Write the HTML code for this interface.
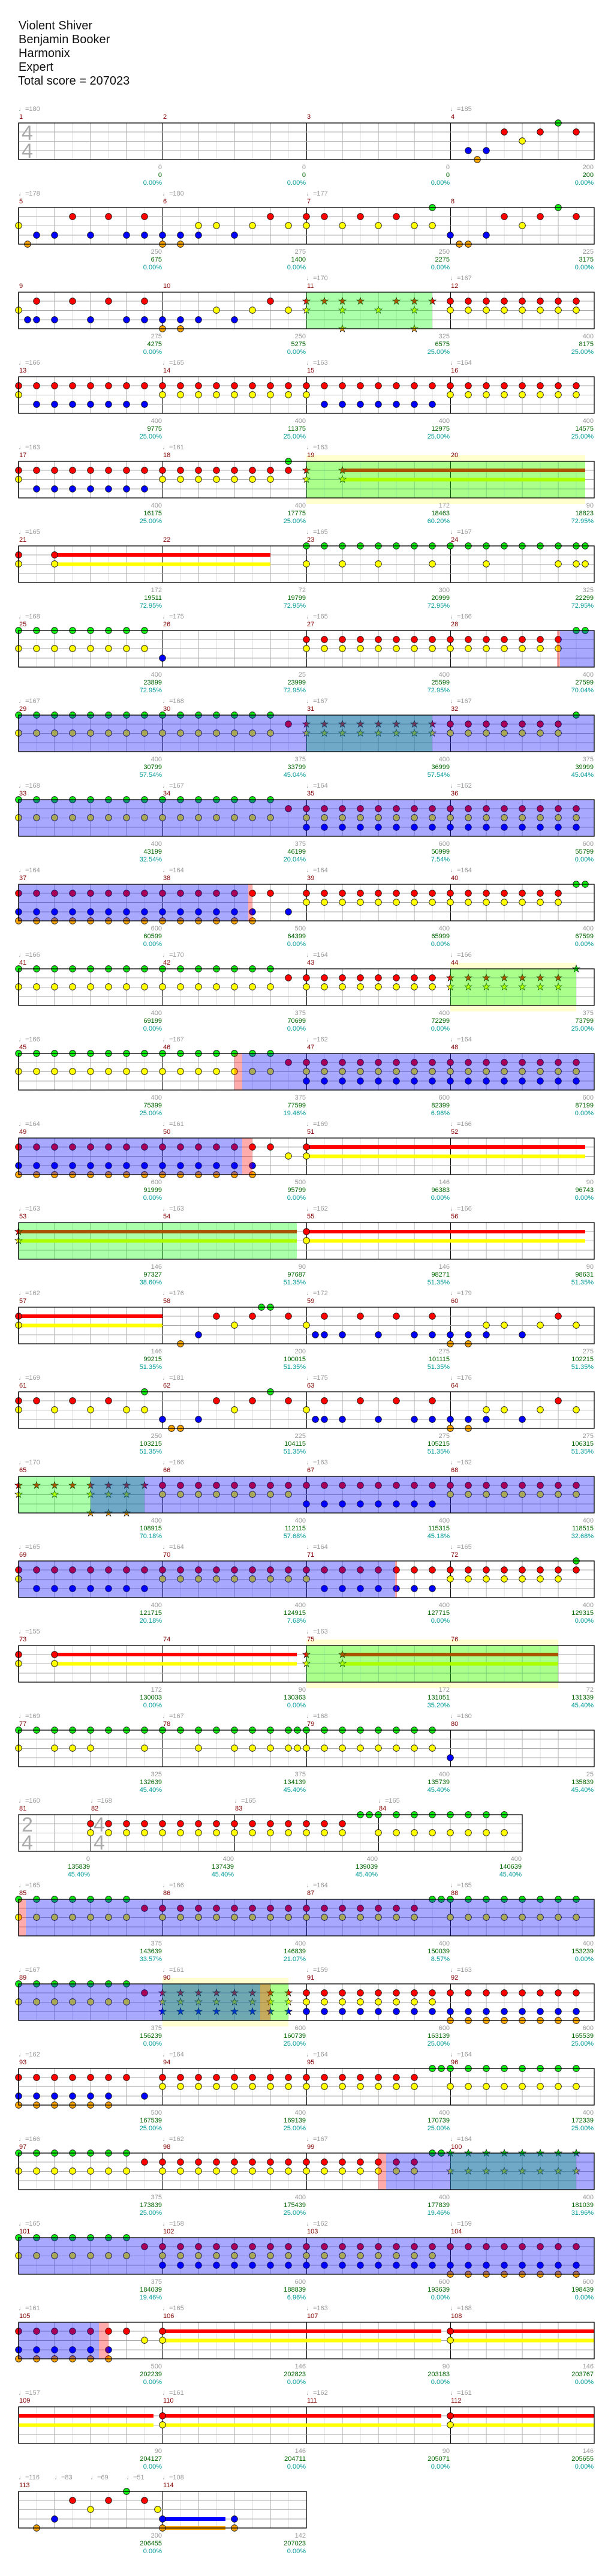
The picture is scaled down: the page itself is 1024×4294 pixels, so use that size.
<!DOCTYPE html>
<html><head><meta charset="utf-8"><style>
html,body{margin:0;padding:0;background:#fff}
svg{display:block}
.h{font:20px "Liberation Sans","DejaVu Sans",sans-serif;fill:#111}
.mn{font:11px "Liberation Sans","DejaVu Sans",sans-serif;fill:#800000}
.tp{font:11px "Liberation Sans","DejaVu Sans",sans-serif;fill:#999}
.a{font:11px "Liberation Sans","DejaVu Sans",sans-serif;fill:#999;text-anchor:end}
.b{font:11px "Liberation Sans","DejaVu Sans",sans-serif;fill:#006400;text-anchor:end}
.c{font:11px "Liberation Sans","DejaVu Sans",sans-serif;fill:#009999;text-anchor:end}
.ts{font:34px "Liberation Sans","DejaVu Sans",sans-serif;fill:#aaa}
</style></head><body>
<svg width="1024" height="4294" xmlns="http://www.w3.org/2000/svg" xmlns:xlink="http://www.w3.org/1999/xlink">
<defs>
<circle id="G" cy="0" r="5.3" fill="#1e1" stroke="#000" stroke-width=".8"/>
<circle id="R" cy="15" r="5.3" fill="#f00" stroke="#000" stroke-width=".8"/>
<circle id="Y" cy="30" r="5.3" fill="#ff0" stroke="#000" stroke-width=".8"/>
<circle id="B" cy="46" r="5.3" fill="#00f" stroke="#000" stroke-width=".8"/>
<circle id="O" cy="61" r="5.3" fill="#ffa500" stroke="#000" stroke-width=".8"/>
<polygon id="sG" transform="translate(0,0)" points="0,-6.5 1.5,-2.1 6.2,-2 2.4,0.8 3.8,5.3 0,2.6 -3.8,5.3 -2.4,0.8 -6.2,-2 -1.5,-2.1" fill="#1e1" stroke="#000" stroke-width=".6"/>
<polygon id="sR" transform="translate(0,15)" points="0,-6.5 1.5,-2.1 6.2,-2 2.4,0.8 3.8,5.3 0,2.6 -3.8,5.3 -2.4,0.8 -6.2,-2 -1.5,-2.1" fill="#f00" stroke="#000" stroke-width=".6"/>
<polygon id="sY" transform="translate(0,30)" points="0,-6.5 1.5,-2.1 6.2,-2 2.4,0.8 3.8,5.3 0,2.6 -3.8,5.3 -2.4,0.8 -6.2,-2 -1.5,-2.1" fill="#ff0" stroke="#000" stroke-width=".6"/>
<polygon id="sB" transform="translate(0,46)" points="0,-6.5 1.5,-2.1 6.2,-2 2.4,0.8 3.8,5.3 0,2.6 -3.8,5.3 -2.4,0.8 -6.2,-2 -1.5,-2.1" fill="#00f" stroke="#000" stroke-width=".6"/>
<polygon id="sO" transform="translate(0,61)" points="0,-6.5 1.5,-2.1 6.2,-2 2.4,0.8 3.8,5.3 0,2.6 -3.8,5.3 -2.4,0.8 -6.2,-2 -1.5,-2.1" fill="#ffa500" stroke="#000" stroke-width=".6"/>
<pattern id="pG" patternUnits="userSpaceOnUse" x="-15" y="-7" width="30" height="14"><use href="#G" x="15" y="7"/></pattern>
<pattern id="pR" patternUnits="userSpaceOnUse" x="-15" y="8" width="30" height="14"><use href="#R" x="15" y="-8"/></pattern>
<pattern id="pY" patternUnits="userSpaceOnUse" x="-15" y="23" width="30" height="14"><use href="#Y" x="15" y="-23"/></pattern>
<pattern id="pB" patternUnits="userSpaceOnUse" x="-15" y="39" width="30" height="14"><use href="#B" x="15" y="-39"/></pattern>
<pattern id="pO" patternUnits="userSpaceOnUse" x="-15" y="54" width="30" height="14"><use href="#O" x="15" y="-54"/></pattern>
<pattern id="qG" patternUnits="userSpaceOnUse" x="-15" y="-7" width="30" height="14"><use href="#sG" x="15" y="7"/></pattern>
<pattern id="qR" patternUnits="userSpaceOnUse" x="-15" y="8" width="30" height="14"><use href="#sR" x="15" y="-8"/></pattern>
<pattern id="qY" patternUnits="userSpaceOnUse" x="-15" y="23" width="30" height="14"><use href="#sY" x="15" y="-23"/></pattern>
<pattern id="qB" patternUnits="userSpaceOnUse" x="-15" y="39" width="30" height="14"><use href="#sB" x="15" y="-39"/></pattern>
<pattern id="gr" patternUnits="userSpaceOnUse" x="0" y="0" width="240" height="61"><path d="M30 0V61M90 0V61M150 0V61M210 0V61" stroke="#ddd"/><path d="M60 0V61M120 0V61M180 0V61" stroke="#aaa"/><path d="M0.5 0V61" stroke="#000"/></pattern>
<pattern id="gr2" patternUnits="userSpaceOnUse" x="-120" y="0" width="240" height="61"><path d="M30 0V61M90 0V61M150 0V61M210 0V61" stroke="#ddd"/><path d="M60 0V61M120 0V61M180 0V61" stroke="#aaa"/><path d="M0.5 0V61" stroke="#000"/></pattern>
<g id="sf"><rect width="960" height="61" fill="url(#gr)"/><path d="M0 15H960M0 30.5H960M0 46H960" stroke="#aaa"/></g>
<rect id="bd" width="960" height="61" fill="none" stroke="#000" stroke-width="1.3"/>
</defs>

<text class="h" x="31" y="49">Violent Shiver</text>
<text class="h" x="31" y="72">Benjamin Booker</text>
<text class="h" x="31" y="95">Harmonix</text>
<text class="h" x="31" y="118">Expert</text>
<text class="h" x="30" y="141">Total score = 207023</text>

<!-- Row 0 -->
<g transform="translate(31,205)">
<use href="#sf"/>
<text class="ts" x="5" y="28">4</text><text class="ts" x="5" y="58">4</text>
<use href="#B" x="750"/><use href="#O" x="765"/><use href="#B" x="780"/><use href="#R" x="810"/><use href="#Y" x="840"/><use href="#R" x="870"/><use href="#G" x="900"/><use href="#R" x="930"/>
<use href="#bd"/>
<text class="tp" x="0" y="-20">♩=180</text><text class="tp" x="720" y="-20">♩=185</text>
<text class="mn" x="1" y="-7">1</text><text class="mn" x="241" y="-7">2</text><text class="mn" x="481" y="-7">3</text><text class="mn" x="721" y="-7">4</text>
<text class="a" x="239" y="77">0</text><text class="b" x="239" y="90">0</text><text class="c" x="239" y="103">0.00%</text>
<text class="a" x="479" y="77">0</text><text class="b" x="479" y="90">0</text><text class="c" x="479" y="103">0.00%</text>
<text class="a" x="719" y="77">0</text><text class="b" x="719" y="90">0</text><text class="c" x="719" y="103">0.00%</text>
<text class="a" x="959" y="77">200</text><text class="b" x="959" y="90">200</text><text class="c" x="959" y="103">0.00%</text>
</g>

<!-- Row 1 -->
<g transform="translate(31,346)">
<use href="#sf"/>
<use href="#Y" x="0"/><use href="#O" x="15"/><use href="#B" x="30"/><use href="#B" x="60"/><use href="#R" x="90"/><use href="#B" x="120"/><use href="#R" x="150"/><use href="#B" x="180"/><use href="#B" x="210"/><use href="#R" x="210"/>
<use href="#B" x="240"/><use href="#O" x="240"/><use href="#B" x="270"/><use href="#O" x="270"/><use href="#B" x="300"/><use href="#Y" x="300"/><use href="#Y" x="330"/><use href="#B" x="360"/><use href="#Y" x="390"/><use href="#R" x="420"/><use href="#Y" x="450"/>
<use href="#R" x="480"/><use href="#Y" x="480"/><use href="#R" x="510"/><use href="#Y" x="540"/><use href="#R" x="570"/><use href="#Y" x="600"/><use href="#R" x="630"/><use href="#Y" x="660"/><use href="#Y" x="690"/><use href="#G" x="690"/>
<use href="#B" x="720"/><use href="#O" x="735"/><use href="#O" x="750"/><use href="#B" x="780"/><use href="#R" x="810"/><use href="#Y" x="840"/><use href="#R" x="870"/><use href="#G" x="900"/><use href="#R" x="930"/>
<use href="#bd"/>
<text class="tp" x="0" y="-20">♩=178</text><text class="tp" x="240" y="-20">♩=180</text><text class="tp" x="480" y="-20">♩=177</text>
<text class="mn" x="1" y="-7">5</text><text class="mn" x="241" y="-7">6</text><text class="mn" x="481" y="-7">7</text><text class="mn" x="721" y="-7">8</text>
<text class="a" x="239" y="77">250</text><text class="b" x="239" y="90">675</text><text class="c" x="239" y="103">0.00%</text>
<text class="a" x="479" y="77">275</text><text class="b" x="479" y="90">1400</text><text class="c" x="479" y="103">0.00%</text>
<text class="a" x="719" y="77">250</text><text class="b" x="719" y="90">2275</text><text class="c" x="719" y="103">0.00%</text>
<text class="a" x="959" y="77">225</text><text class="b" x="959" y="90">3175</text><text class="c" x="959" y="103">0.00%</text>
</g>

<!-- Row 2 -->
<g transform="translate(31,487)">
<use href="#sf"/>
<use href="#Y" x="0"/><use href="#B" x="15"/><use href="#B" x="30"/><use href="#B" x="60"/><use href="#B" x="120"/><rect x="165" y="39" width="150" height="14" fill="url(#pB)"/><use href="#B" x="360"/>
<use href="#R" x="30"/><use href="#R" x="90"/><use href="#R" x="150"/><use href="#R" x="210"/><use href="#R" x="420"/>
<use href="#O" x="240"/><use href="#O" x="270"/><use href="#Y" x="330"/><use href="#Y" x="390"/><use href="#Y" x="450"/>
<rect x="465" y="8" width="120" height="14" fill="url(#qR)"/><rect x="615" y="8" width="90" height="14" fill="url(#qR)"/>
<use href="#sY" x="480"/><use href="#sY" x="540"/><use href="#sY" x="600"/><use href="#sY" x="660"/><use href="#sO" x="540"/><use href="#sO" x="660"/>
<rect x="705" y="8" width="240" height="14" fill="url(#pR)"/><rect x="705" y="23" width="240" height="14" fill="url(#pY)"/>
<rect x="480" y="0" width="210" height="61" fill="#0f0" fill-opacity=".33"/>
<use href="#bd"/>
<text class="tp" x="480" y="-20">♩=170</text><text class="tp" x="720" y="-20">♩=167</text>
<text class="mn" x="1" y="-7">9</text><text class="mn" x="241" y="-7">10</text><text class="mn" x="481" y="-7">11</text><text class="mn" x="721" y="-7">12</text>
<text class="a" x="239" y="77">275</text><text class="b" x="239" y="90">4275</text><text class="c" x="239" y="103">0.00%</text>
<text class="a" x="479" y="77">250</text><text class="b" x="479" y="90">5275</text><text class="c" x="479" y="103">0.00%</text>
<text class="a" x="719" y="77">325</text><text class="b" x="719" y="90">6575</text><text class="c" x="719" y="103">25.00%</text>
<text class="a" x="959" y="77">400</text><text class="b" x="959" y="90">8175</text><text class="c" x="959" y="103">25.00%</text>
</g>

<!-- Row 3 -->
<g transform="translate(31,628)">
<use href="#sf"/>
<rect x="-15" y="8" width="960" height="14" fill="url(#pR)"/>
<use href="#Y" x="0"/><rect x="225" y="23" width="270" height="14" fill="url(#pY)"/><rect x="705" y="23" width="240" height="14" fill="url(#pY)"/>
<rect x="15" y="39" width="210" height="14" fill="url(#pB)"/><rect x="495" y="39" width="210" height="14" fill="url(#pB)"/>
<use href="#bd"/>
<text class="tp" x="0" y="-20">♩=166</text><text class="tp" x="240" y="-20">♩=165</text><text class="tp" x="480" y="-20">♩=163</text><text class="tp" x="720" y="-20">♩=164</text>
<text class="mn" x="1" y="-7">13</text><text class="mn" x="241" y="-7">14</text><text class="mn" x="481" y="-7">15</text><text class="mn" x="721" y="-7">16</text>
<text class="a" x="239" y="77">400</text><text class="b" x="239" y="90">9775</text><text class="c" x="239" y="103">25.00%</text>
<text class="a" x="479" y="77">400</text><text class="b" x="479" y="90">11375</text><text class="c" x="479" y="103">25.00%</text>
<text class="a" x="719" y="77">400</text><text class="b" x="719" y="90">12975</text><text class="c" x="719" y="103">25.00%</text>
<text class="a" x="959" y="77">400</text><text class="b" x="959" y="90">14575</text><text class="c" x="959" y="103">25.00%</text>
</g>

<!-- Row 4 -->
<g transform="translate(31,769)">
<rect x="480" y="-10" width="465" height="81" fill="#ffffd0"/>
<use href="#sf"/>
<rect x="-15" y="8" width="480" height="14" fill="url(#pR)"/>
<use href="#Y" x="0"/><rect x="225" y="23" width="210" height="14" fill="url(#pY)"/>
<rect x="15" y="39" width="210" height="14" fill="url(#pB)"/><use href="#G" x="450"/>
<rect x="540" y="12" width="405" height="6" fill="#f00"/><rect x="540" y="27.5" width="405" height="6" fill="#ff0"/>
<use href="#sR" x="480"/><use href="#sR" x="540"/><use href="#sY" x="480"/><use href="#sY" x="540"/>
<rect x="480" y="0" width="465" height="61" fill="#0f0" fill-opacity=".33"/>
<use href="#bd"/>
<text class="tp" x="0" y="-20">♩=163</text><text class="tp" x="240" y="-20">♩=161</text><text class="tp" x="480" y="-20">♩=163</text>
<text class="mn" x="1" y="-7">17</text><text class="mn" x="241" y="-7">18</text><text class="mn" x="481" y="-7">19</text><text class="mn" x="721" y="-7">20</text>
<text class="a" x="239" y="77">400</text><text class="b" x="239" y="90">16175</text><text class="c" x="239" y="103">25.00%</text>
<text class="a" x="479" y="77">400</text><text class="b" x="479" y="90">17775</text><text class="c" x="479" y="103">25.00%</text>
<text class="a" x="719" y="77">172</text><text class="b" x="719" y="90">18463</text><text class="c" x="719" y="103">60.20%</text>
<text class="a" x="959" y="77">90</text><text class="b" x="959" y="90">18823</text><text class="c" x="959" y="103">72.95%</text>
</g>

<!-- Row 5 -->
<g transform="translate(31,910)">
<use href="#sf"/>
<rect x="60" y="12" width="360" height="6" fill="#f00"/><rect x="60" y="27.5" width="360" height="6" fill="#ff0"/>
<use href="#R" x="0"/><use href="#R" x="60"/><use href="#Y" x="0"/><use href="#Y" x="60"/>
<rect x="465" y="-7" width="480" height="14" fill="url(#pG)"/><use href="#G" x="945"/>
<use href="#Y" x="480"/><use href="#Y" x="540"/><use href="#Y" x="600"/><use href="#Y" x="690"/><use href="#Y" x="780"/><use href="#Y" x="900"/><use href="#Y" x="930"/><use href="#Y" x="945"/>
<use href="#bd"/>
<text class="tp" x="0" y="-20">♩=165</text><text class="tp" x="480" y="-20">♩=165</text><text class="tp" x="720" y="-20">♩=167</text>
<text class="mn" x="1" y="-7">21</text><text class="mn" x="241" y="-7">22</text><text class="mn" x="481" y="-7">23</text><text class="mn" x="721" y="-7">24</text>
<text class="a" x="239" y="77">172</text><text class="b" x="239" y="90">19511</text><text class="c" x="239" y="103">72.95%</text>
<text class="a" x="479" y="77">72</text><text class="b" x="479" y="90">19799</text><text class="c" x="479" y="103">72.95%</text>
<text class="a" x="719" y="77">300</text><text class="b" x="719" y="90">20999</text><text class="c" x="719" y="103">72.95%</text>
<text class="a" x="959" y="77">325</text><text class="b" x="959" y="90">22299</text><text class="c" x="959" y="103">72.95%</text>
</g>

<!-- Row 6 -->
<g transform="translate(31,1051)">
<use href="#sf"/>
<rect x="-15" y="-7" width="240" height="14" fill="url(#pG)"/><rect x="-15" y="23" width="240" height="14" fill="url(#pY)"/><use href="#B" x="240"/>
<rect x="465" y="8" width="450" height="14" fill="url(#pR)"/><rect x="465" y="23" width="450" height="14" fill="url(#pY)"/>
<use href="#G" x="930"/><use href="#G" x="945"/>
<rect x="898" y="0" width="5" height="61" fill="#f00" fill-opacity=".33"/>
<rect x="903" y="0" width="57" height="61" fill="#00f" fill-opacity=".34"/>
<use href="#bd"/>
<text class="tp" x="0" y="-20">♩=168</text><text class="tp" x="240" y="-20">♩=175</text><text class="tp" x="480" y="-20">♩=165</text><text class="tp" x="720" y="-20">♩=166</text>
<text class="mn" x="1" y="-7">25</text><text class="mn" x="241" y="-7">26</text><text class="mn" x="481" y="-7">27</text><text class="mn" x="721" y="-7">28</text>
<text class="a" x="239" y="77">400</text><text class="b" x="239" y="90">23899</text><text class="c" x="239" y="103">72.95%</text>
<text class="a" x="479" y="77">25</text><text class="b" x="479" y="90">23999</text><text class="c" x="479" y="103">72.95%</text>
<text class="a" x="719" y="77">400</text><text class="b" x="719" y="90">25599</text><text class="c" x="719" y="103">72.95%</text>
<text class="a" x="959" y="77">400</text><text class="b" x="959" y="90">27599</text><text class="c" x="959" y="103">70.04%</text>
</g>

<!-- Row 7 -->
<g transform="translate(31,1192)">
<use href="#sf"/>
<rect x="-15" y="-7" width="450" height="14" fill="url(#pG)"/><rect x="-15" y="23" width="450" height="14" fill="url(#pY)"/><use href="#R" x="450"/>
<rect x="465" y="8" width="240" height="14" fill="url(#qR)"/><rect x="465" y="23" width="240" height="14" fill="url(#qY)"/>
<rect x="705" y="8" width="210" height="14" fill="url(#pR)"/><rect x="705" y="23" width="210" height="14" fill="url(#pY)"/><use href="#G" x="930"/>
<rect x="480" y="0" width="210" height="61" fill="#0f0" fill-opacity=".33"/>
<rect x="0" y="0" width="960" height="61" fill="#00f" fill-opacity=".34"/>
<use href="#bd"/>
<text class="tp" x="0" y="-20">♩=167</text><text class="tp" x="240" y="-20">♩=168</text><text class="tp" x="480" y="-20">♩=167</text><text class="tp" x="720" y="-20">♩=167</text>
<text class="mn" x="1" y="-7">29</text><text class="mn" x="241" y="-7">30</text><text class="mn" x="481" y="-7">31</text><text class="mn" x="721" y="-7">32</text>
<text class="a" x="239" y="77">400</text><text class="b" x="239" y="90">30799</text><text class="c" x="239" y="103">57.54%</text>
<text class="a" x="479" y="77">375</text><text class="b" x="479" y="90">33799</text><text class="c" x="479" y="103">45.04%</text>
<text class="a" x="719" y="77">400</text><text class="b" x="719" y="90">36999</text><text class="c" x="719" y="103">57.54%</text>
<text class="a" x="959" y="77">375</text><text class="b" x="959" y="90">39999</text><text class="c" x="959" y="103">45.04%</text>
</g>

<!-- Row 8 -->
<g transform="translate(31,1333)">
<use href="#sf"/>
<rect x="-15" y="-7" width="450" height="14" fill="url(#pG)"/><rect x="-15" y="23" width="450" height="14" fill="url(#pY)"/>
<rect x="435" y="8" width="510" height="14" fill="url(#pR)"/><rect x="465" y="23" width="480" height="14" fill="url(#pY)"/><rect x="465" y="39" width="480" height="14" fill="url(#pB)"/>
<rect x="0" y="0" width="960" height="61" fill="#00f" fill-opacity=".34"/>
<use href="#bd"/>
<text class="tp" x="0" y="-20">♩=168</text><text class="tp" x="240" y="-20">♩=167</text><text class="tp" x="480" y="-20">♩=164</text><text class="tp" x="720" y="-20">♩=162</text>
<text class="mn" x="1" y="-7">33</text><text class="mn" x="241" y="-7">34</text><text class="mn" x="481" y="-7">35</text><text class="mn" x="721" y="-7">36</text>
<text class="a" x="239" y="77">400</text><text class="b" x="239" y="90">43199</text><text class="c" x="239" y="103">32.54%</text>
<text class="a" x="479" y="77">375</text><text class="b" x="479" y="90">46199</text><text class="c" x="479" y="103">20.04%</text>
<text class="a" x="719" y="77">600</text><text class="b" x="719" y="90">50999</text><text class="c" x="719" y="103">7.54%</text>
<text class="a" x="959" y="77">600</text><text class="b" x="959" y="90">55799</text><text class="c" x="959" y="103">0.00%</text>
</g>

<!-- Row 9 -->
<g transform="translate(31,1474)">
<use href="#sf"/>
<rect x="-15" y="8" width="450" height="14" fill="url(#pR)"/><rect x="-15" y="39" width="420" height="14" fill="url(#pB)"/><use href="#B" x="450"/><rect x="-15" y="54" width="420" height="14" fill="url(#pO)"/>
<rect x="465" y="8" width="450" height="14" fill="url(#pR)"/><rect x="465" y="23" width="450" height="14" fill="url(#pY)"/><use href="#G" x="930"/><use href="#G" x="945"/>
<rect x="0" y="0" width="383" height="61" fill="#00f" fill-opacity=".34"/><rect x="383" y="0" width="7" height="61" fill="#f00" fill-opacity=".33"/>
<use href="#bd"/>
<text class="tp" x="0" y="-20">♩=164</text><text class="tp" x="240" y="-20">♩=164</text><text class="tp" x="480" y="-20">♩=164</text><text class="tp" x="720" y="-20">♩=164</text>
<text class="mn" x="1" y="-7">37</text><text class="mn" x="241" y="-7">38</text><text class="mn" x="481" y="-7">39</text><text class="mn" x="721" y="-7">40</text>
<text class="a" x="239" y="77">600</text><text class="b" x="239" y="90">60599</text><text class="c" x="239" y="103">0.00%</text>
<text class="a" x="479" y="77">500</text><text class="b" x="479" y="90">64399</text><text class="c" x="479" y="103">0.00%</text>
<text class="a" x="719" y="77">400</text><text class="b" x="719" y="90">65999</text><text class="c" x="719" y="103">0.00%</text>
<text class="a" x="959" y="77">400</text><text class="b" x="959" y="90">67599</text><text class="c" x="959" y="103">0.00%</text>
</g>

<!-- Row 10 -->
<g transform="translate(31,1615)">
<rect x="720" y="-10" width="210" height="81" fill="#ffffd0"/>
<use href="#sf"/>
<rect x="-15" y="-7" width="450" height="14" fill="url(#pG)"/><rect x="-15" y="23" width="450" height="14" fill="url(#pY)"/>
<rect x="435" y="8" width="270" height="14" fill="url(#pR)"/><rect x="465" y="23" width="240" height="14" fill="url(#pY)"/>
<rect x="705" y="8" width="210" height="14" fill="url(#qR)"/><rect x="705" y="23" width="210" height="14" fill="url(#qY)"/><use href="#sG" x="930"/>
<rect x="720" y="0" width="210" height="61" fill="#0f0" fill-opacity=".33"/>
<use href="#bd"/>
<text class="tp" x="0" y="-20">♩=166</text><text class="tp" x="240" y="-20">♩=170</text><text class="tp" x="480" y="-20">♩=164</text><text class="tp" x="720" y="-20">♩=166</text>
<text class="mn" x="1" y="-7">41</text><text class="mn" x="241" y="-7">42</text><text class="mn" x="481" y="-7">43</text><text class="mn" x="721" y="-7">44</text>
<text class="a" x="239" y="77">400</text><text class="b" x="239" y="90">69199</text><text class="c" x="239" y="103">0.00%</text>
<text class="a" x="479" y="77">375</text><text class="b" x="479" y="90">70699</text><text class="c" x="479" y="103">0.00%</text>
<text class="a" x="719" y="77">400</text><text class="b" x="719" y="90">72299</text><text class="c" x="719" y="103">0.00%</text>
<text class="a" x="959" y="77">375</text><text class="b" x="959" y="90">73799</text><text class="c" x="959" y="103">25.00%</text>
</g>

<!-- Row 11 -->
<g transform="translate(31,1756)">
<use href="#sf"/>
<rect x="-15" y="-7" width="450" height="14" fill="url(#pG)"/><rect x="-15" y="23" width="450" height="14" fill="url(#pY)"/>
<rect x="435" y="8" width="510" height="14" fill="url(#pR)"/><rect x="465" y="23" width="480" height="14" fill="url(#pY)"/><rect x="465" y="39" width="480" height="14" fill="url(#pB)"/>
<rect x="360" y="0" width="13" height="61" fill="#f00" fill-opacity=".33"/><rect x="373" y="0" width="587" height="61" fill="#00f" fill-opacity=".34"/>
<use href="#bd"/>
<text class="tp" x="0" y="-20">♩=166</text><text class="tp" x="240" y="-20">♩=167</text><text class="tp" x="480" y="-20">♩=162</text><text class="tp" x="720" y="-20">♩=164</text>
<text class="mn" x="1" y="-7">45</text><text class="mn" x="241" y="-7">46</text><text class="mn" x="481" y="-7">47</text><text class="mn" x="721" y="-7">48</text>
<text class="a" x="239" y="77">400</text><text class="b" x="239" y="90">75399</text><text class="c" x="239" y="103">25.00%</text>
<text class="a" x="479" y="77">375</text><text class="b" x="479" y="90">77599</text><text class="c" x="479" y="103">19.46%</text>
<text class="a" x="719" y="77">600</text><text class="b" x="719" y="90">82399</text><text class="c" x="719" y="103">6.96%</text>
<text class="a" x="959" y="77">600</text><text class="b" x="959" y="90">87199</text><text class="c" x="959" y="103">0.00%</text>
</g>

<!-- Row 12 -->
<g transform="translate(31,1897)">
<use href="#sf"/>
<rect x="-15" y="8" width="450" height="14" fill="url(#pR)"/><rect x="-15" y="39" width="420" height="14" fill="url(#pB)"/><rect x="-15" y="54" width="420" height="14" fill="url(#pO)"/>
<use href="#Y" x="450"/>
<rect x="480" y="12" width="465" height="6" fill="#f00"/><rect x="480" y="27.5" width="465" height="6" fill="#ff0"/>
<use href="#R" x="480"/><use href="#Y" x="480"/>
<rect x="0" y="0" width="373" height="61" fill="#00f" fill-opacity=".34"/><rect x="373" y="0" width="17" height="61" fill="#f00" fill-opacity=".33"/>
<use href="#bd"/>
<text class="tp" x="0" y="-20">♩=164</text><text class="tp" x="240" y="-20">♩=161</text><text class="tp" x="480" y="-20">♩=169</text><text class="tp" x="720" y="-20">♩=166</text>
<text class="mn" x="1" y="-7">49</text><text class="mn" x="241" y="-7">50</text><text class="mn" x="481" y="-7">51</text><text class="mn" x="721" y="-7">52</text>
<text class="a" x="239" y="77">600</text><text class="b" x="239" y="90">91999</text><text class="c" x="239" y="103">0.00%</text>
<text class="a" x="479" y="77">500</text><text class="b" x="479" y="90">95799</text><text class="c" x="479" y="103">0.00%</text>
<text class="a" x="719" y="77">146</text><text class="b" x="719" y="90">96383</text><text class="c" x="719" y="103">0.00%</text>
<text class="a" x="959" y="77">90</text><text class="b" x="959" y="90">96743</text><text class="c" x="959" y="103">0.00%</text>
</g>

<!-- Row 13 -->
<g transform="translate(31,2038)">
<use href="#sf"/>
<rect x="0" y="12" width="464" height="6" fill="#f00"/><rect x="0" y="27.5" width="464" height="6" fill="#ff0"/>
<use href="#sR" x="0"/><use href="#sY" x="0"/>
<rect x="480" y="12" width="465" height="6" fill="#f00"/><rect x="480" y="27.5" width="465" height="6" fill="#ff0"/>
<use href="#R" x="480"/><use href="#Y" x="480"/>
<rect x="0" y="0" width="464" height="61" fill="#0f0" fill-opacity=".33"/>
<use href="#bd"/>
<text class="tp" x="0" y="-20">♩=163</text><text class="tp" x="240" y="-20">♩=163</text><text class="tp" x="480" y="-20">♩=162</text><text class="tp" x="720" y="-20">♩=166</text>
<text class="mn" x="1" y="-7">53</text><text class="mn" x="241" y="-7">54</text><text class="mn" x="481" y="-7">55</text><text class="mn" x="721" y="-7">56</text>
<text class="a" x="239" y="77">146</text><text class="b" x="239" y="90">97327</text><text class="c" x="239" y="103">38.60%</text>
<text class="a" x="479" y="77">90</text><text class="b" x="479" y="90">97687</text><text class="c" x="479" y="103">51.35%</text>
<text class="a" x="719" y="77">146</text><text class="b" x="719" y="90">98271</text><text class="c" x="719" y="103">51.35%</text>
<text class="a" x="959" y="77">90</text><text class="b" x="959" y="90">98631</text><text class="c" x="959" y="103">51.35%</text>
</g>

<!-- Row 14 -->
<g transform="translate(31,2179)">
<use href="#sf"/>
<rect x="0" y="12" width="240" height="6" fill="#f00"/><rect x="0" y="27.5" width="240" height="6" fill="#ff0"/>
<use href="#R" x="0"/><use href="#Y" x="0"/>
<use href="#O" x="270"/><use href="#B" x="300"/><use href="#R" x="330"/><use href="#Y" x="360"/><use href="#R" x="390"/><use href="#G" x="405"/><use href="#G" x="420"/><use href="#R" x="450"/>
<use href="#Y" x="480"/><use href="#B" x="495"/><use href="#B" x="510"/><use href="#R" x="510"/><use href="#B" x="540"/><use href="#R" x="570"/><use href="#B" x="600"/><use href="#R" x="630"/><use href="#B" x="660"/><use href="#B" x="690"/><use href="#R" x="690"/>
<use href="#B" x="720"/><use href="#O" x="720"/><use href="#B" x="750"/><use href="#O" x="750"/><use href="#B" x="780"/><use href="#Y" x="780"/><use href="#Y" x="810"/><use href="#B" x="840"/><use href="#Y" x="870"/><use href="#R" x="900"/><use href="#Y" x="930"/>
<use href="#bd"/>
<text class="tp" x="0" y="-20">♩=162</text><text class="tp" x="240" y="-20">♩=176</text><text class="tp" x="480" y="-20">♩=172</text><text class="tp" x="720" y="-20">♩=179</text>
<text class="mn" x="1" y="-7">57</text><text class="mn" x="241" y="-7">58</text><text class="mn" x="481" y="-7">59</text><text class="mn" x="721" y="-7">60</text>
<text class="a" x="239" y="77">146</text><text class="b" x="239" y="90">99215</text><text class="c" x="239" y="103">51.35%</text>
<text class="a" x="479" y="77">200</text><text class="b" x="479" y="90">100015</text><text class="c" x="479" y="103">51.35%</text>
<text class="a" x="719" y="77">275</text><text class="b" x="719" y="90">101115</text><text class="c" x="719" y="103">51.35%</text>
<text class="a" x="959" y="77">275</text><text class="b" x="959" y="90">102215</text><text class="c" x="959" y="103">51.35%</text>
</g>

<!-- Row 15 -->
<g transform="translate(31,2320)">
<use href="#sf"/>
<use href="#R" x="0"/><use href="#R" x="30"/><use href="#R" x="90"/><use href="#R" x="150"/>
<use href="#Y" x="0"/><use href="#Y" x="60"/><use href="#Y" x="120"/><use href="#Y" x="180"/><use href="#Y" x="210"/><use href="#G" x="210"/>
<use href="#B" x="240"/><use href="#O" x="255"/><use href="#O" x="270"/><use href="#B" x="300"/><use href="#R" x="330"/><use href="#Y" x="360"/><use href="#R" x="390"/><use href="#G" x="420"/><use href="#R" x="450"/>
<use href="#Y" x="480"/><use href="#B" x="495"/><use href="#B" x="510"/><use href="#R" x="510"/><use href="#B" x="540"/><use href="#R" x="570"/><use href="#B" x="600"/><use href="#R" x="630"/><use href="#B" x="660"/><use href="#B" x="690"/><use href="#R" x="690"/>
<use href="#B" x="720"/><use href="#O" x="720"/><use href="#B" x="750"/><use href="#O" x="750"/><use href="#B" x="780"/><use href="#Y" x="780"/><use href="#Y" x="810"/><use href="#B" x="840"/><use href="#Y" x="870"/><use href="#R" x="900"/><use href="#Y" x="930"/>
<use href="#bd"/>
<text class="tp" x="0" y="-20">♩=169</text><text class="tp" x="240" y="-20">♩=181</text><text class="tp" x="480" y="-20">♩=175</text><text class="tp" x="720" y="-20">♩=176</text>
<text class="mn" x="1" y="-7">61</text><text class="mn" x="241" y="-7">62</text><text class="mn" x="481" y="-7">63</text><text class="mn" x="721" y="-7">64</text>
<text class="a" x="239" y="77">250</text><text class="b" x="239" y="90">103215</text><text class="c" x="239" y="103">51.35%</text>
<text class="a" x="479" y="77">225</text><text class="b" x="479" y="90">104115</text><text class="c" x="479" y="103">51.35%</text>
<text class="a" x="719" y="77">275</text><text class="b" x="719" y="90">105215</text><text class="c" x="719" y="103">51.35%</text>
<text class="a" x="959" y="77">275</text><text class="b" x="959" y="90">106315</text><text class="c" x="959" y="103">51.35%</text>
</g>

<!-- Row 16 -->
<g transform="translate(31,2461)">
<use href="#sf"/>
<rect x="-15" y="8" width="240" height="14" fill="url(#qR)"/>
<use href="#sY" x="0"/><use href="#sY" x="60"/><use href="#sY" x="120"/><use href="#sY" x="150"/><use href="#sY" x="180"/>
<use href="#sO" x="120"/><use href="#sO" x="150"/><use href="#sO" x="180"/>
<rect x="225" y="8" width="720" height="14" fill="url(#pR)"/><rect x="225" y="23" width="240" height="14" fill="url(#pY)"/><rect x="705" y="23" width="240" height="14" fill="url(#pY)"/><rect x="465" y="39" width="240" height="14" fill="url(#pB)"/>
<rect x="0" y="0" width="210" height="61" fill="#0f0" fill-opacity=".33"/>
<rect x="120" y="0" width="840" height="61" fill="#00f" fill-opacity=".34"/>
<use href="#bd"/>
<text class="tp" x="0" y="-20">♩=170</text><text class="tp" x="240" y="-20">♩=166</text><text class="tp" x="480" y="-20">♩=163</text><text class="tp" x="720" y="-20">♩=162</text>
<text class="mn" x="1" y="-7">65</text><text class="mn" x="241" y="-7">66</text><text class="mn" x="481" y="-7">67</text><text class="mn" x="721" y="-7">68</text>
<text class="a" x="239" y="77">400</text><text class="b" x="239" y="90">108915</text><text class="c" x="239" y="103">70.18%</text>
<text class="a" x="479" y="77">400</text><text class="b" x="479" y="90">112115</text><text class="c" x="479" y="103">57.68%</text>
<text class="a" x="719" y="77">400</text><text class="b" x="719" y="90">115315</text><text class="c" x="719" y="103">45.18%</text>
<text class="a" x="959" y="77">400</text><text class="b" x="959" y="90">118515</text><text class="c" x="959" y="103">32.68%</text>
</g>

<!-- Row 17 -->
<g transform="translate(31,2602)">
<use href="#sf"/>
<rect x="-15" y="8" width="960" height="14" fill="url(#pR)"/>
<use href="#Y" x="0"/><rect x="225" y="23" width="270" height="14" fill="url(#pY)"/><rect x="705" y="23" width="210" height="14" fill="url(#pY)"/>
<rect x="15" y="39" width="210" height="14" fill="url(#pB)"/><rect x="495" y="39" width="210" height="14" fill="url(#pB)"/><use href="#G" x="930"/>
<rect x="0" y="0" width="628" height="61" fill="#00f" fill-opacity=".34"/><rect x="628" y="0" width="3" height="61" fill="#f00" fill-opacity=".33"/>
<use href="#bd"/>
<text class="tp" x="0" y="-20">♩=165</text><text class="tp" x="240" y="-20">♩=164</text><text class="tp" x="480" y="-20">♩=164</text><text class="tp" x="720" y="-20">♩=165</text>
<text class="mn" x="1" y="-7">69</text><text class="mn" x="241" y="-7">70</text><text class="mn" x="481" y="-7">71</text><text class="mn" x="721" y="-7">72</text>
<text class="a" x="239" y="77">400</text><text class="b" x="239" y="90">121715</text><text class="c" x="239" y="103">20.18%</text>
<text class="a" x="479" y="77">400</text><text class="b" x="479" y="90">124915</text><text class="c" x="479" y="103">7.68%</text>
<text class="a" x="719" y="77">400</text><text class="b" x="719" y="90">127715</text><text class="c" x="719" y="103">0.00%</text>
<text class="a" x="959" y="77">400</text><text class="b" x="959" y="90">129315</text><text class="c" x="959" y="103">0.00%</text>
</g>

<!-- Row 18 -->
<g transform="translate(31,2743)">
<rect x="480" y="-10" width="420" height="81" fill="#ffffd0"/>
<use href="#sf"/>
<rect x="60" y="12" width="404" height="6" fill="#f00"/><rect x="60" y="27.5" width="404" height="6" fill="#ff0"/>
<use href="#R" x="0"/><use href="#R" x="60"/><use href="#Y" x="0"/><use href="#Y" x="60"/>
<rect x="540" y="12" width="360" height="6" fill="#f00"/><rect x="540" y="27.5" width="360" height="6" fill="#ff0"/>
<use href="#sR" x="480"/><use href="#sR" x="540"/><use href="#sY" x="480"/><use href="#sY" x="540"/>
<rect x="480" y="0" width="420" height="61" fill="#0f0" fill-opacity=".33"/>
<use href="#bd"/>
<text class="tp" x="0" y="-20">♩=155</text><text class="tp" x="480" y="-20">♩=163</text>
<text class="mn" x="1" y="-7">73</text><text class="mn" x="241" y="-7">74</text><text class="mn" x="481" y="-7">75</text><text class="mn" x="721" y="-7">76</text>
<text class="a" x="239" y="77">172</text><text class="b" x="239" y="90">130003</text><text class="c" x="239" y="103">0.00%</text>
<text class="a" x="479" y="77">90</text><text class="b" x="479" y="90">130363</text><text class="c" x="479" y="103">0.00%</text>
<text class="a" x="719" y="77">172</text><text class="b" x="719" y="90">131051</text><text class="c" x="719" y="103">35.20%</text>
<text class="a" x="959" y="77">72</text><text class="b" x="959" y="90">131339</text><text class="c" x="959" y="103">45.40%</text>
</g>

<!-- Row 19 -->
<g transform="translate(31,2884)">
<use href="#sf"/>
<rect x="-15" y="-7" width="510" height="14" fill="url(#pG)"/><use href="#G" x="465"/><rect x="495" y="-7" width="210" height="14" fill="url(#pG)"/>
<use href="#Y" x="0"/><use href="#Y" x="60"/><use href="#Y" x="90"/><use href="#Y" x="120"/><use href="#Y" x="210"/><use href="#Y" x="300"/><use href="#Y" x="360"/><use href="#Y" x="390"/>
<rect x="405" y="23" width="300" height="14" fill="url(#pY)"/><use href="#Y" x="465"/><use href="#B" x="720"/>
<use href="#bd"/>
<text class="tp" x="0" y="-20">♩=169</text><text class="tp" x="240" y="-20">♩=167</text><text class="tp" x="480" y="-20">♩=168</text><text class="tp" x="720" y="-20">♩=160</text>
<text class="mn" x="1" y="-7">77</text><text class="mn" x="241" y="-7">78</text><text class="mn" x="481" y="-7">79</text><text class="mn" x="721" y="-7">80</text>
<text class="a" x="239" y="77">325</text><text class="b" x="239" y="90">132639</text><text class="c" x="239" y="103">45.40%</text>
<text class="a" x="479" y="77">375</text><text class="b" x="479" y="90">134139</text><text class="c" x="479" y="103">45.40%</text>
<text class="a" x="719" y="77">400</text><text class="b" x="719" y="90">135739</text><text class="c" x="719" y="103">45.40%</text>
<text class="a" x="959" y="77">25</text><text class="b" x="959" y="90">135839</text><text class="c" x="959" y="103">45.40%</text>
</g>

<!-- Row 20 -->
<g transform="translate(31,3025)">
<rect width="840" height="61" fill="url(#gr2)"/><path d="M0 15H840M0 30.5H840M0 46H840" stroke="#aaa"/>
<text class="ts" x="5" y="28">2</text><text class="ts" x="5" y="58">4</text>
<text class="ts" x="125" y="28">4</text><text class="ts" x="125" y="58">4</text>
<rect x="105" y="8" width="450" height="14" fill="url(#pR)"/><rect x="105" y="23" width="450" height="14" fill="url(#pY)"/>
<use href="#G" x="570"/><use href="#G" x="585"/><use href="#G" x="600"/><rect x="615" y="-7" width="210" height="14" fill="url(#pG)"/><rect x="585" y="23" width="240" height="14" fill="url(#pY)"/>
<rect width="840" height="61" fill="none" stroke="#000" stroke-width="1.3"/>
<text class="tp" x="0" y="-20">♩=160</text><text class="tp" x="120" y="-20">♩=168</text><text class="tp" x="360" y="-20">♩=165</text><text class="tp" x="600" y="-20">♩=165</text>
<text class="mn" x="1" y="-7">81</text><text class="mn" x="121" y="-7">82</text><text class="mn" x="361" y="-7">83</text><text class="mn" x="601" y="-7">84</text>
<text class="a" x="119" y="77">0</text><text class="b" x="119" y="90">135839</text><text class="c" x="119" y="103">45.40%</text>
<text class="a" x="359" y="77">400</text><text class="b" x="359" y="90">137439</text><text class="c" x="359" y="103">45.40%</text>
<text class="a" x="599" y="77">400</text><text class="b" x="599" y="90">139039</text><text class="c" x="599" y="103">45.40%</text>
<text class="a" x="839" y="77">400</text><text class="b" x="839" y="90">140639</text><text class="c" x="839" y="103">45.40%</text>
</g>

<!-- Row 21 -->
<g transform="translate(31,3166)">
<use href="#sf"/>
<rect x="-15" y="-7" width="210" height="14" fill="url(#pG)"/><rect x="-15" y="23" width="210" height="14" fill="url(#pY)"/>
<rect x="195" y="8" width="480" height="14" fill="url(#pR)"/><rect x="225" y="23" width="450" height="14" fill="url(#pY)"/>
<use href="#G" x="690"/><use href="#G" x="705"/><rect x="705" y="-7" width="240" height="14" fill="url(#pG)"/><rect x="705" y="23" width="240" height="14" fill="url(#pY)"/>
<rect x="0" y="0" width="12" height="61" fill="#f00" fill-opacity=".33"/><rect x="12" y="0" width="948" height="61" fill="#00f" fill-opacity=".34"/>
<use href="#bd"/>
<text class="tp" x="0" y="-20">♩=165</text><text class="tp" x="240" y="-20">♩=166</text><text class="tp" x="480" y="-20">♩=164</text><text class="tp" x="720" y="-20">♩=165</text>
<text class="mn" x="1" y="-7">85</text><text class="mn" x="241" y="-7">86</text><text class="mn" x="481" y="-7">87</text><text class="mn" x="721" y="-7">88</text>
<text class="a" x="239" y="77">375</text><text class="b" x="239" y="90">143639</text><text class="c" x="239" y="103">33.57%</text>
<text class="a" x="479" y="77">400</text><text class="b" x="479" y="90">146839</text><text class="c" x="479" y="103">21.07%</text>
<text class="a" x="719" y="77">400</text><text class="b" x="719" y="90">150039</text><text class="c" x="719" y="103">8.57%</text>
<text class="a" x="959" y="77">400</text><text class="b" x="959" y="90">153239</text><text class="c" x="959" y="103">0.00%</text>
</g>

<!-- Row 22 -->
<g transform="translate(31,3307)">
<rect x="240" y="-10" width="210" height="81" fill="#ffffd0"/>
<use href="#sf"/>
<rect x="-15" y="-7" width="210" height="14" fill="url(#pG)"/><rect x="-15" y="23" width="210" height="14" fill="url(#pY)"/><use href="#R" x="210"/>
<rect x="225" y="8" width="240" height="14" fill="url(#qR)"/><rect x="225" y="23" width="240" height="14" fill="url(#qY)"/><rect x="225" y="39" width="240" height="14" fill="url(#qB)"/>
<rect x="465" y="8" width="480" height="14" fill="url(#pR)"/><rect x="465" y="23" width="240" height="14" fill="url(#pY)"/><rect x="465" y="39" width="480" height="14" fill="url(#pB)"/><rect x="705" y="54" width="240" height="14" fill="url(#pO)"/>
<rect x="240" y="0" width="210" height="61" fill="#0f0" fill-opacity=".33"/>
<rect x="0" y="0" width="403" height="61" fill="#00f" fill-opacity=".34"/><rect x="403" y="0" width="17" height="61" fill="#f00" fill-opacity=".33"/>
<use href="#bd"/>
<text class="tp" x="0" y="-20">♩=167</text><text class="tp" x="240" y="-20">♩=161</text><text class="tp" x="480" y="-20">♩=159</text><text class="tp" x="720" y="-20">♩=163</text>
<text class="mn" x="1" y="-7">89</text><text class="mn" x="241" y="-7">90</text><text class="mn" x="481" y="-7">91</text><text class="mn" x="721" y="-7">92</text>
<text class="a" x="239" y="77">375</text><text class="b" x="239" y="90">156239</text><text class="c" x="239" y="103">0.00%</text>
<text class="a" x="479" y="77">600</text><text class="b" x="479" y="90">160739</text><text class="c" x="479" y="103">25.00%</text>
<text class="a" x="719" y="77">600</text><text class="b" x="719" y="90">163139</text><text class="c" x="719" y="103">25.00%</text>
<text class="a" x="959" y="77">600</text><text class="b" x="959" y="90">165539</text><text class="c" x="959" y="103">25.00%</text>
</g>

<!-- Row 23 -->
<g transform="translate(31,3448)">
<use href="#sf"/>
<rect x="-15" y="8" width="210" height="14" fill="url(#pR)"/><rect x="-15" y="39" width="180" height="14" fill="url(#pB)"/><use href="#B" x="210"/><rect x="-15" y="54" width="180" height="14" fill="url(#pO)"/>
<rect x="225" y="8" width="450" height="14" fill="url(#pR)"/><rect x="225" y="23" width="450" height="14" fill="url(#pY)"/>
<use href="#G" x="690"/><use href="#G" x="705"/><rect x="705" y="-7" width="240" height="14" fill="url(#pG)"/><rect x="705" y="23" width="240" height="14" fill="url(#pY)"/>
<use href="#bd"/>
<text class="tp" x="0" y="-20">♩=162</text><text class="tp" x="240" y="-20">♩=164</text><text class="tp" x="480" y="-20">♩=164</text><text class="tp" x="720" y="-20">♩=164</text>
<text class="mn" x="1" y="-7">93</text><text class="mn" x="241" y="-7">94</text><text class="mn" x="481" y="-7">95</text><text class="mn" x="721" y="-7">96</text>
<text class="a" x="239" y="77">500</text><text class="b" x="239" y="90">167539</text><text class="c" x="239" y="103">25.00%</text>
<text class="a" x="479" y="77">400</text><text class="b" x="479" y="90">169139</text><text class="c" x="479" y="103">25.00%</text>
<text class="a" x="719" y="77">400</text><text class="b" x="719" y="90">170739</text><text class="c" x="719" y="103">25.00%</text>
<text class="a" x="959" y="77">400</text><text class="b" x="959" y="90">172339</text><text class="c" x="959" y="103">25.00%</text>
</g>

<!-- Row 24 -->
<g transform="translate(31,3589)">
<use href="#sf"/>
<rect x="-15" y="-7" width="210" height="14" fill="url(#pG)"/><rect x="-15" y="23" width="210" height="14" fill="url(#pY)"/>
<rect x="195" y="8" width="480" height="14" fill="url(#pR)"/><rect x="225" y="23" width="450" height="14" fill="url(#pY)"/>
<use href="#G" x="690"/><use href="#G" x="705"/>
<rect x="705" y="-7" width="240" height="14" fill="url(#qG)"/><rect x="705" y="23" width="240" height="14" fill="url(#qY)"/>
<rect x="720" y="0" width="210" height="61" fill="#0f0" fill-opacity=".33"/>
<rect x="600" y="0" width="13" height="61" fill="#f00" fill-opacity=".33"/><rect x="613" y="0" width="347" height="61" fill="#00f" fill-opacity=".34"/>
<use href="#bd"/>
<text class="tp" x="0" y="-20">♩=166</text><text class="tp" x="240" y="-20">♩=162</text><text class="tp" x="480" y="-20">♩=167</text><text class="tp" x="720" y="-20">♩=164</text>
<text class="mn" x="1" y="-7">97</text><text class="mn" x="241" y="-7">98</text><text class="mn" x="481" y="-7">99</text><text class="mn" x="721" y="-7">100</text>
<text class="a" x="239" y="77">375</text><text class="b" x="239" y="90">173839</text><text class="c" x="239" y="103">25.00%</text>
<text class="a" x="479" y="77">400</text><text class="b" x="479" y="90">175439</text><text class="c" x="479" y="103">25.00%</text>
<text class="a" x="719" y="77">400</text><text class="b" x="719" y="90">177839</text><text class="c" x="719" y="103">19.46%</text>
<text class="a" x="959" y="77">400</text><text class="b" x="959" y="90">181039</text><text class="c" x="959" y="103">31.96%</text>
</g>

<!-- Row 25 -->
<g transform="translate(31,3730)">
<use href="#sf"/>
<rect x="-15" y="-7" width="210" height="14" fill="url(#pG)"/><rect x="-15" y="23" width="210" height="14" fill="url(#pY)"/>
<rect x="195" y="8" width="750" height="14" fill="url(#pR)"/><rect x="225" y="23" width="480" height="14" fill="url(#pY)"/><rect x="225" y="39" width="720" height="14" fill="url(#pB)"/><rect x="705" y="54" width="240" height="14" fill="url(#pO)"/>
<rect x="0" y="0" width="960" height="61" fill="#00f" fill-opacity=".34"/>
<use href="#bd"/>
<text class="tp" x="0" y="-20">♩=165</text><text class="tp" x="240" y="-20">♩=158</text><text class="tp" x="480" y="-20">♩=162</text><text class="tp" x="720" y="-20">♩=159</text>
<text class="mn" x="1" y="-7">101</text><text class="mn" x="241" y="-7">102</text><text class="mn" x="481" y="-7">103</text><text class="mn" x="721" y="-7">104</text>
<text class="a" x="239" y="77">375</text><text class="b" x="239" y="90">184039</text><text class="c" x="239" y="103">19.46%</text>
<text class="a" x="479" y="77">600</text><text class="b" x="479" y="90">188839</text><text class="c" x="479" y="103">6.96%</text>
<text class="a" x="719" y="77">600</text><text class="b" x="719" y="90">193639</text><text class="c" x="719" y="103">0.00%</text>
<text class="a" x="959" y="77">600</text><text class="b" x="959" y="90">198439</text><text class="c" x="959" y="103">0.00%</text>
</g>

<!-- Row 26 -->
<g transform="translate(31,3871)">
<use href="#sf"/>
<rect x="-15" y="8" width="210" height="14" fill="url(#pR)"/><rect x="-15" y="39" width="180" height="14" fill="url(#pB)"/><rect x="-15" y="54" width="180" height="14" fill="url(#pO)"/>
<use href="#Y" x="210"/>
<rect x="240" y="12" width="465" height="6" fill="#f00"/><rect x="240" y="27.5" width="465" height="6" fill="#ff0"/>
<rect x="720" y="12" width="240" height="6" fill="#f00"/><rect x="720" y="27.5" width="240" height="6" fill="#ff0"/>
<use href="#R" x="240"/><use href="#Y" x="240"/><use href="#R" x="720"/><use href="#Y" x="720"/>
<rect x="0" y="0" width="134" height="61" fill="#00f" fill-opacity=".34"/><rect x="134" y="0" width="16" height="61" fill="#f00" fill-opacity=".33"/>
<use href="#bd"/>
<text class="tp" x="0" y="-20">♩=161</text><text class="tp" x="240" y="-20">♩=165</text><text class="tp" x="480" y="-20">♩=163</text><text class="tp" x="720" y="-20">♩=168</text>
<text class="mn" x="1" y="-7">105</text><text class="mn" x="241" y="-7">106</text><text class="mn" x="481" y="-7">107</text><text class="mn" x="721" y="-7">108</text>
<text class="a" x="239" y="77">500</text><text class="b" x="239" y="90">202239</text><text class="c" x="239" y="103">0.00%</text>
<text class="a" x="479" y="77">146</text><text class="b" x="479" y="90">202823</text><text class="c" x="479" y="103">0.00%</text>
<text class="a" x="719" y="77">90</text><text class="b" x="719" y="90">203183</text><text class="c" x="719" y="103">0.00%</text>
<text class="a" x="959" y="77">146</text><text class="b" x="959" y="90">203767</text><text class="c" x="959" y="103">0.00%</text>
</g>

<!-- Row 27 -->
<g transform="translate(31,4012)">
<use href="#sf"/>
<rect x="0" y="12" width="225" height="6" fill="#f00"/><rect x="0" y="27.5" width="225" height="6" fill="#ff0"/>
<rect x="240" y="12" width="465" height="6" fill="#f00"/><rect x="240" y="27.5" width="465" height="6" fill="#ff0"/>
<rect x="720" y="12" width="240" height="6" fill="#f00"/><rect x="720" y="27.5" width="240" height="6" fill="#ff0"/>
<use href="#R" x="240"/><use href="#Y" x="240"/><use href="#R" x="720"/><use href="#Y" x="720"/>
<use href="#bd"/>
<text class="tp" x="0" y="-20">♩=157</text><text class="tp" x="240" y="-20">♩=161</text><text class="tp" x="480" y="-20">♩=162</text><text class="tp" x="720" y="-20">♩=161</text>
<text class="mn" x="1" y="-7">109</text><text class="mn" x="241" y="-7">110</text><text class="mn" x="481" y="-7">111</text><text class="mn" x="721" y="-7">112</text>
<text class="a" x="239" y="77">90</text><text class="b" x="239" y="90">204127</text><text class="c" x="239" y="103">0.00%</text>
<text class="a" x="479" y="77">146</text><text class="b" x="479" y="90">204711</text><text class="c" x="479" y="103">0.00%</text>
<text class="a" x="719" y="77">90</text><text class="b" x="719" y="90">205071</text><text class="c" x="719" y="103">0.00%</text>
<text class="a" x="959" y="77">146</text><text class="b" x="959" y="90">205655</text><text class="c" x="959" y="103">0.00%</text>
</g>

<!-- Row 28 -->
<g transform="translate(31,4153)">
<rect width="480" height="61" fill="url(#gr)"/><path d="M0 15H480M0 30.5H480M0 46H480" stroke="#aaa"/>
<rect x="240" y="43" width="105" height="6" fill="#00f"/><rect x="240" y="58" width="105" height="6" fill="#ffa500"/>
<use href="#O" x="30"/><use href="#B" x="60"/><use href="#R" x="90"/><use href="#Y" x="120"/><use href="#R" x="150"/><use href="#G" x="180"/><use href="#R" x="210"/><use href="#Y" x="232"/>
<use href="#B" x="240"/><use href="#O" x="240"/><use href="#B" x="360"/><use href="#O" x="360"/>
<rect width="480" height="61" fill="none" stroke="#000" stroke-width="1.3"/>
<text class="tp" x="0" y="-20">♩=116</text><text class="tp" x="60" y="-20">♩=83</text><text class="tp" x="120" y="-20">♩=69</text><text class="tp" x="180" y="-20">♩=51</text><text class="tp" x="240" y="-20">♩=108</text>
<text class="mn" x="1" y="-7">113</text><text class="mn" x="241" y="-7">114</text>
<text class="a" x="239" y="77">200</text><text class="b" x="239" y="90">206455</text><text class="c" x="239" y="103">0.00%</text>
<text class="a" x="479" y="77">142</text><text class="b" x="479" y="90">207023</text><text class="c" x="479" y="103">0.00%</text>
</g>
</svg>
</body></html>
